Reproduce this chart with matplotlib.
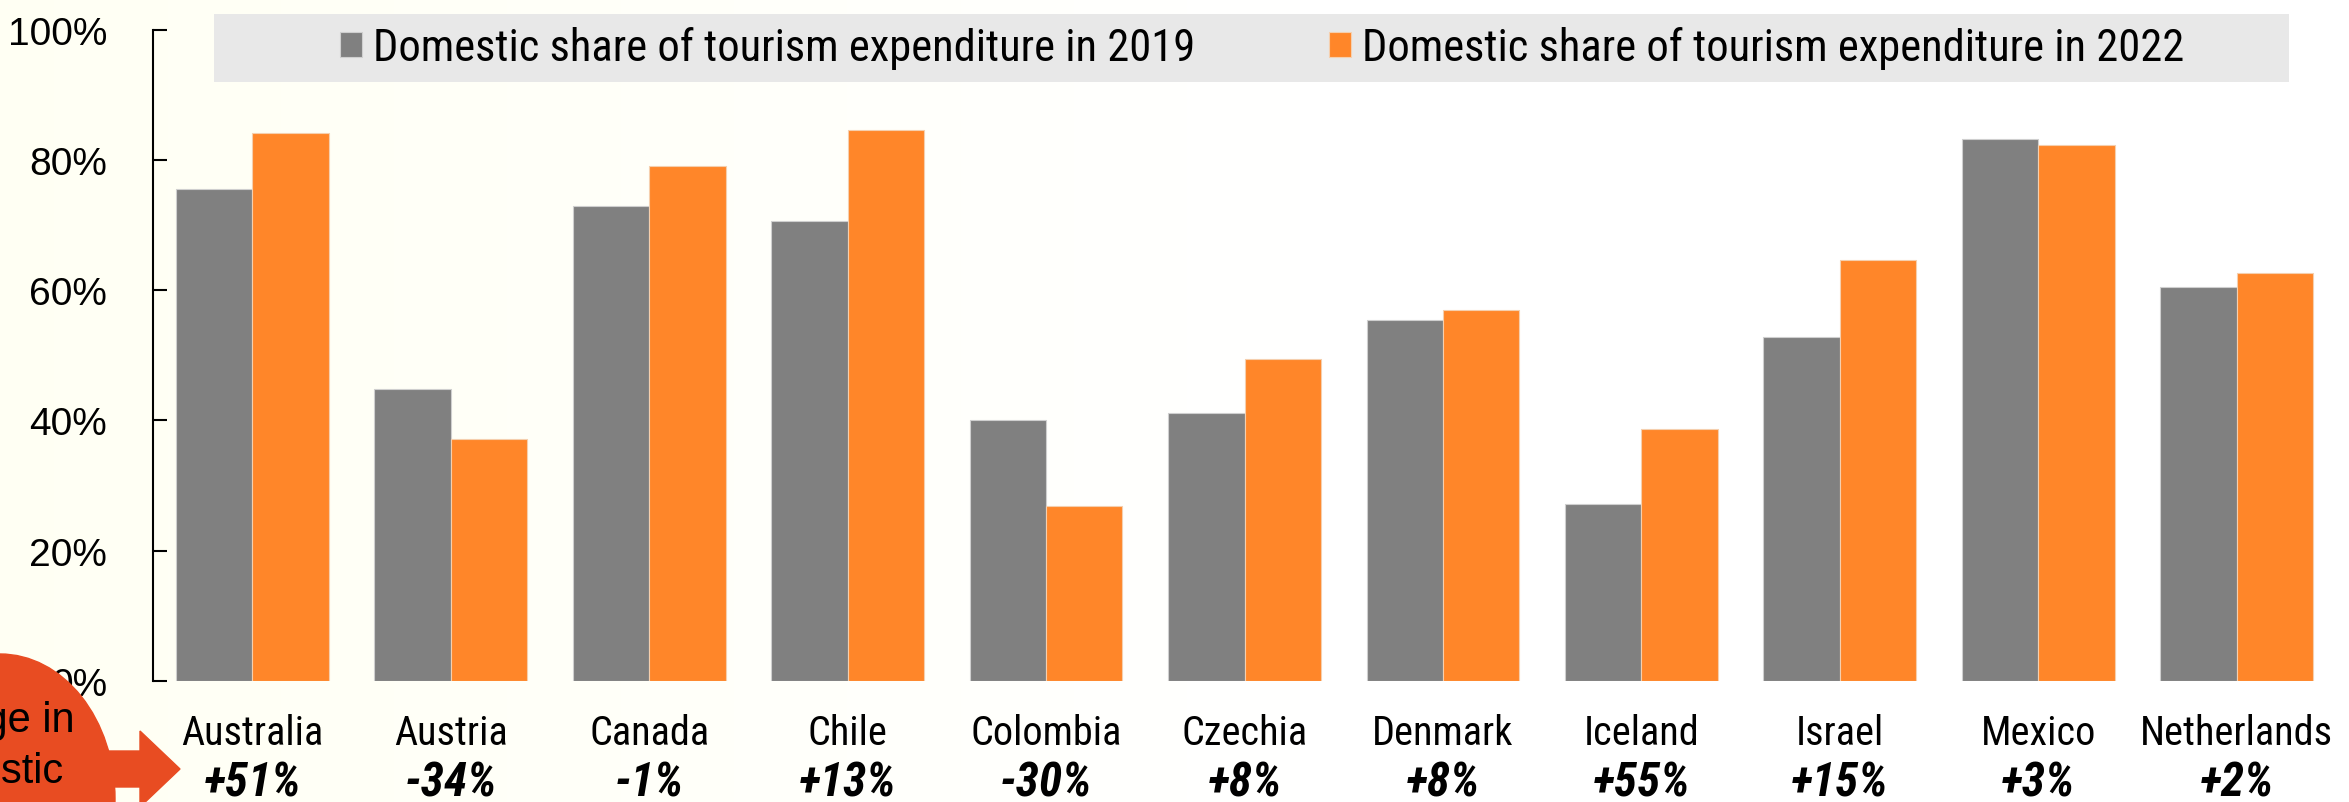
import numpy as np
import matplotlib.pyplot as plt
from matplotlib.patches import Ellipse, Polygon, Rectangle
from matplotlib.transforms import blended_transform_factory

countries = ['Australia', 'Austria', 'Canada', 'Chile', 'Colombia', 'Czechia',
             'Denmark', 'Iceland', 'Israel', 'Mexico', 'Netherlands']
share_2019 = [75.5, 44.8, 72.9, 70.6, 40.0, 41.1, 55.4, 27.1, 52.8, 83.2, 60.4]
share_2022 = [84.1, 37.2, 79.1, 84.6, 26.8, 49.4, 57.0, 38.6, 64.6, 82.3, 62.7]
change_labels = ['+51%', '-34%', '-1%', '+13%', '-30%', '+8%', '+8%',
                 '+55%', '+15%', '+3%', '+2%']
yticks = [0, 20, 40, 60, 80, 100]

GREY = '#808080'
ORANGE = '#FF8629'
RED = '#E84C22'
NARROW = ['Roboto Condensed', 'Liberation Sans', 'DejaVu Sans']
REGULAR = ['Liberation Sans', 'DejaVu Sans']

W, H = 2349, 803
fig = plt.figure(figsize=(W / 100, H / 100), dpi=100, facecolor='white')

# background: ivory on the left fading to white, plus the grey legend band
bg = fig.add_axes([0, 0, 1, 1], zorder=0)
bg.set_axis_off()
fade = np.clip(1 - np.arange(W) / 1300, 0, 1)
grad = np.ones((1, W, 3))
grad[0, :, 2] = 1 - 0.045 * fade
bg.imshow(grad, extent=(0, W, H, 0), aspect='auto')
bg.add_patch(Rectangle((214, 15), 2075, 68, facecolor='#E8E8E8', edgecolor='none'))
bg.set_xlim(0, W)
bg.set_ylim(H, 0)

# main chart
ax = fig.add_axes([153 / W, 1 - 681.7 / H, (2336 - 153) / W, (681.7 - 30.7) / H], zorder=1)
ax.patch.set_alpha(0)
x = np.arange(len(countries))
w = 0.385
b1 = ax.bar(x - w / 2, share_2019, w, color=GREY, edgecolor='#cfcfcf', linewidth=0.8,
            label='Domestic share of tourism expenditure in 2019')
b2 = ax.bar(x + w / 2, share_2022, w, color=ORANGE, edgecolor='#f5cfae', linewidth=0.8,
            label='Domestic share of tourism expenditure in 2022')
ax.set_xlim(-0.5, len(countries) - 0.5)
ax.set_ylim(0, 100)
ax.set_yticks(yticks)
ax.set_yticklabels([f'{t}%' for t in yticks], fontsize=28, family=REGULAR)
ax.tick_params(axis='y', direction='in', length=10, width=1.5, pad=33)
ax.set_xticks([])
for s in ['top', 'right', 'bottom']:
    ax.spines[s].set_visible(False)
ax.spines['left'].set_linewidth(1.5)

tr = blended_transform_factory(ax.transData, ax.transAxes)
for i, (name, ch) in enumerate(zip(countries, change_labels)):
    ax.text(i, -0.0972, name, transform=tr, ha='center', va='baseline',
            fontsize=29, family=NARROW)
    ax.text(i, -0.1767, ch, transform=tr, ha='center', va='baseline',
            fontsize=34, family=NARROW, fontweight='bold', fontstyle='italic')

fig.legend(handles=[b1, b2], loc='center', bbox_to_anchor=(1262 / W, 1 - 49 / H),
           ncol=2, frameon=False, prop={'family': NARROW, 'size': 32},
           handlelength=0.5, handleheight=0.5, handletextpad=0.24, columnspacing=3.0)

# callout bubble with arrow on the bottom left
ov = fig.add_axes([0, 0, 1, 1], zorder=3)
ov.set_axis_off()
ov.patch.set_alpha(0)
ov.set_xlim(0, W)
ov.set_ylim(H, 0)
ov.add_patch(Ellipse((0, 800), 230, 290, color=RED))
ov.add_patch(Polygon([(60, 752), (140, 752), (140, 732), (180, 770), (140, 808),
                      (140, 788), (60, 788)], closed=True, color=RED))
ov.text(-20, 732, 'Change in', ha='center', va='baseline', fontsize=30, family=REGULAR)
ov.text(-20, 783, 'domestic', ha='center', va='baseline', fontsize=30, family=REGULAR)

fig.savefig('out.png', dpi=100)
